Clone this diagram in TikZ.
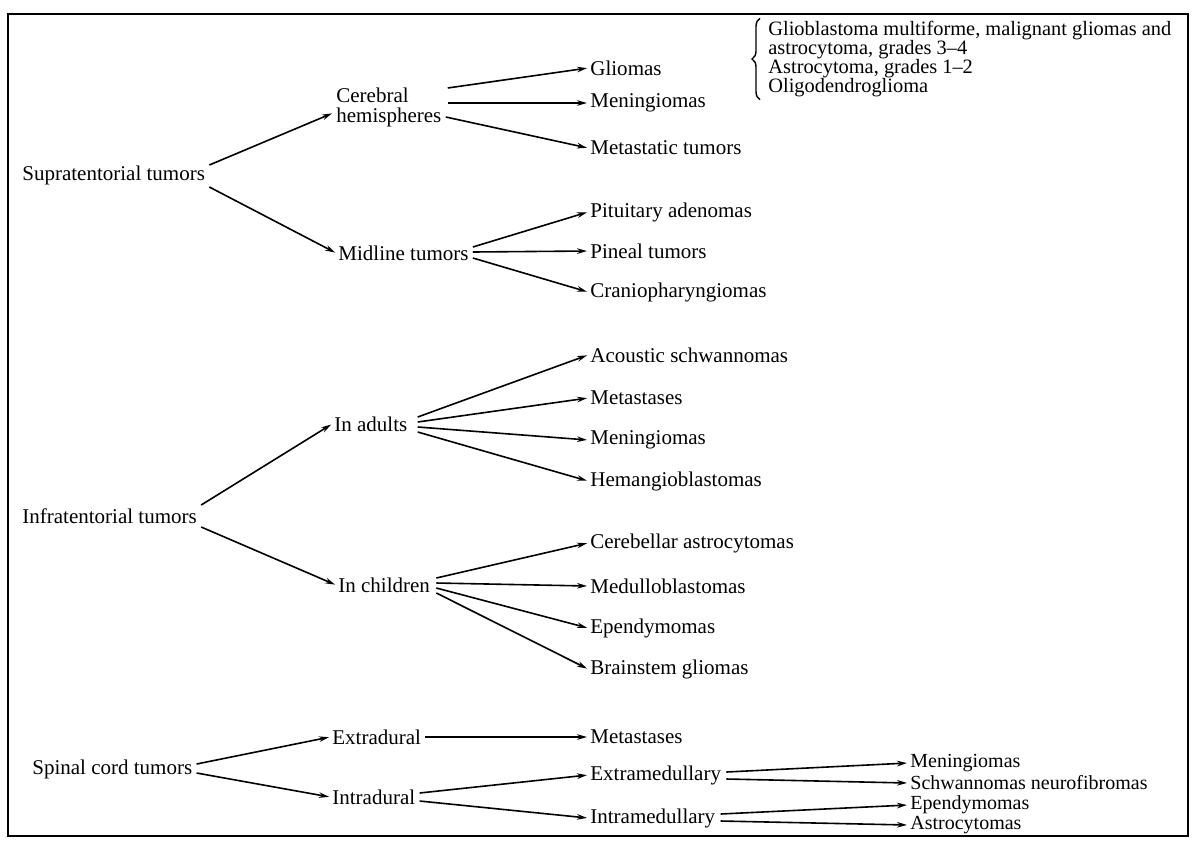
\documentclass[tikz,border=0pt]{standalone}
\usepackage{fontspec}
\setmainfont{Liberation Serif}
\usetikzlibrary{arrows.meta,decorations.pathreplacing}
\begin{document}
\begin{tikzpicture}[x=0.5pt,y=-0.5pt,
  lbl/.style={anchor=west,inner xsep=1pt,inner ysep=0pt,font=\fontsize{10.5}{10}\selectfont},
  small/.style={font=\fontsize{10}{10}\selectfont},
  arr/.style={-{Stealth[length=5pt,width=2.8pt]},line width=0.8pt,shorten >=0.5pt},
  bracestyle/.style={decorate,decoration={brace,amplitude=4pt},line width=0.7pt},
  frame/.style={line width=0.9pt}]
\useasboundingbox (0,0) rectangle (1197,841);
\draw[frame] (8,14) rectangle (1188,836);

% Supratentorial
\node[lbl] (sup) at (20,175) {Supratentorial tumors};
\node[lbl,align=left] (cer) at (334,107) {Cerebral\\hemispheres};
\node[lbl] (gli) at (588,68) {Gliomas};
\node[lbl] (men1) at (588,103) {Meningiomas};
\node[lbl] (met1) at (588,148) {Metastatic tumors};
\node[lbl] (mid) at (336,253) {Midline tumors};
\node[lbl] (pit) at (588,212) {Pituitary adenomas};
\node[lbl] (pin) at (588,251) {Pineal tumors};
\node[lbl] (cra) at (588,292) {Craniopharyngiomas};
\node[lbl,align=left,font=\fontsize{10.2}{9.6}\selectfont] (gl) at (766,59) {Glioblastoma multiforme, malignant gliomas and\\astrocytoma, grades 3--4\\Astrocytoma, grades 1--2\\Oligodendroglioma};
\draw[bracestyle] ([xshift=-3pt,yshift=-1pt]gl.south west) -- ([xshift=-3pt,yshift=1pt]gl.north west);

\draw[arr] ([shift={(2,-10)}]sup.east) -- ([shift={(-1,6)}]cer.west);
\draw[arr] ([shift={(2,12)}]sup.east) -- (mid.west);
\draw[arr] ([shift={(4,-19)}]cer.east) -- (gli.west);
\draw[arr] ([shift={(4,-4)}]cer.east) -- (men1.west);
\draw[arr] ([shift={(2,10)}]cer.east) -- (met1.west);
\draw[arr] ([shift={(2,-6)}]mid.east) -- (pit.west);
\draw[arr] ([shift={(2,-1)}]mid.east) -- (pin.west);
\draw[arr] ([shift={(2,5)}]mid.east) -- (cra.west);

% Infratentorial
\node[lbl] (inf) at (20,516) {Infratentorial tumors};
\node[lbl] (adu) at (332,424) {In adults};
\node[lbl] (chi) at (336,585) {In children};
\node[lbl] (aco) at (588,355) {Acoustic schwannomas};
\node[lbl] (met2) at (588,398) {Metastases};
\node[lbl] (men2) at (588,440) {Meningiomas};
\node[lbl] (hem) at (588,481) {Hemangioblastomas};
\node[lbl] (cas) at (588,543) {Cerebellar astrocytomas};
\node[lbl] (med) at (588,586) {Medulloblastomas};
\node[lbl] (epe2) at (588,628) {Ependymomas};
\node[lbl] (bra) at (588,669) {Brainstem gliomas};

\draw[arr] ([shift={(2,-11)}]inf.east) -- (adu.west);
\draw[arr] ([shift={(2,11)}]inf.east) -- (chi.west);
\draw[arr] ([shift={(8,-7)}]adu.east) -- (aco.west);
\draw[arr] ([shift={(8,-2)}]adu.east) -- (met2.west);
\draw[arr] ([shift={(8,3)}]adu.east) -- (men2.west);
\draw[arr] ([shift={(8,8)}]adu.east) -- (hem.west);
\draw[arr] ([shift={(4,-7)}]chi.east) -- (cas.west);
\draw[arr] ([shift={(4,-2)}]chi.east) -- (med.west);
\draw[arr] ([shift={(4,3)}]chi.east) -- (epe2.west);
\draw[arr] ([shift={(4,8)}]chi.east) -- (bra.west);

% Spinal cord
\node[lbl] (spi) at (30,769) {Spinal cord tumors};
\node[lbl] (ext) at (330,737) {Extradural};
\node[lbl] (int) at (330,797) {Intradural};
\node[lbl] (met3) at (588,737) {Metastases};
\node[lbl] (exm) at (588,775) {Extramedullary};
\node[lbl] (inm) at (588,818) {Intramedullary};
\node[lbl,small] (men3) at (908,763) {Meningiomas};
\node[lbl,small] (sch) at (908,783) {Schwannomas neurofibromas};
\node[lbl,small] (epe3) at (908,805) {Ependymomas};
\node[lbl,small] (ast) at (908,825) {Astrocytomas};

\draw[arr] ([shift={(2,-5)}]spi.east) -- (ext.west);
\draw[arr] ([shift={(2,4)}]spi.east) -- (int.west);
\draw[arr] ([shift={(2,0)}]ext.east) -- (met3.west);
\draw[arr] ([shift={(2,-4)}]int.east) -- (exm.west);
\draw[arr] ([shift={(2,4)}]int.east) -- (inm.west);
\draw[arr] ([shift={(3,-3)}]exm.east) -- (men3.west);
\draw[arr] ([shift={(3,4)}]exm.east) -- (sch.west);
\draw[arr] ([shift={(3,-4)}]inm.east) -- (epe3.west);
\draw[arr] ([shift={(3,3)}]inm.east) -- (ast.west);
\end{tikzpicture}
\end{document}
